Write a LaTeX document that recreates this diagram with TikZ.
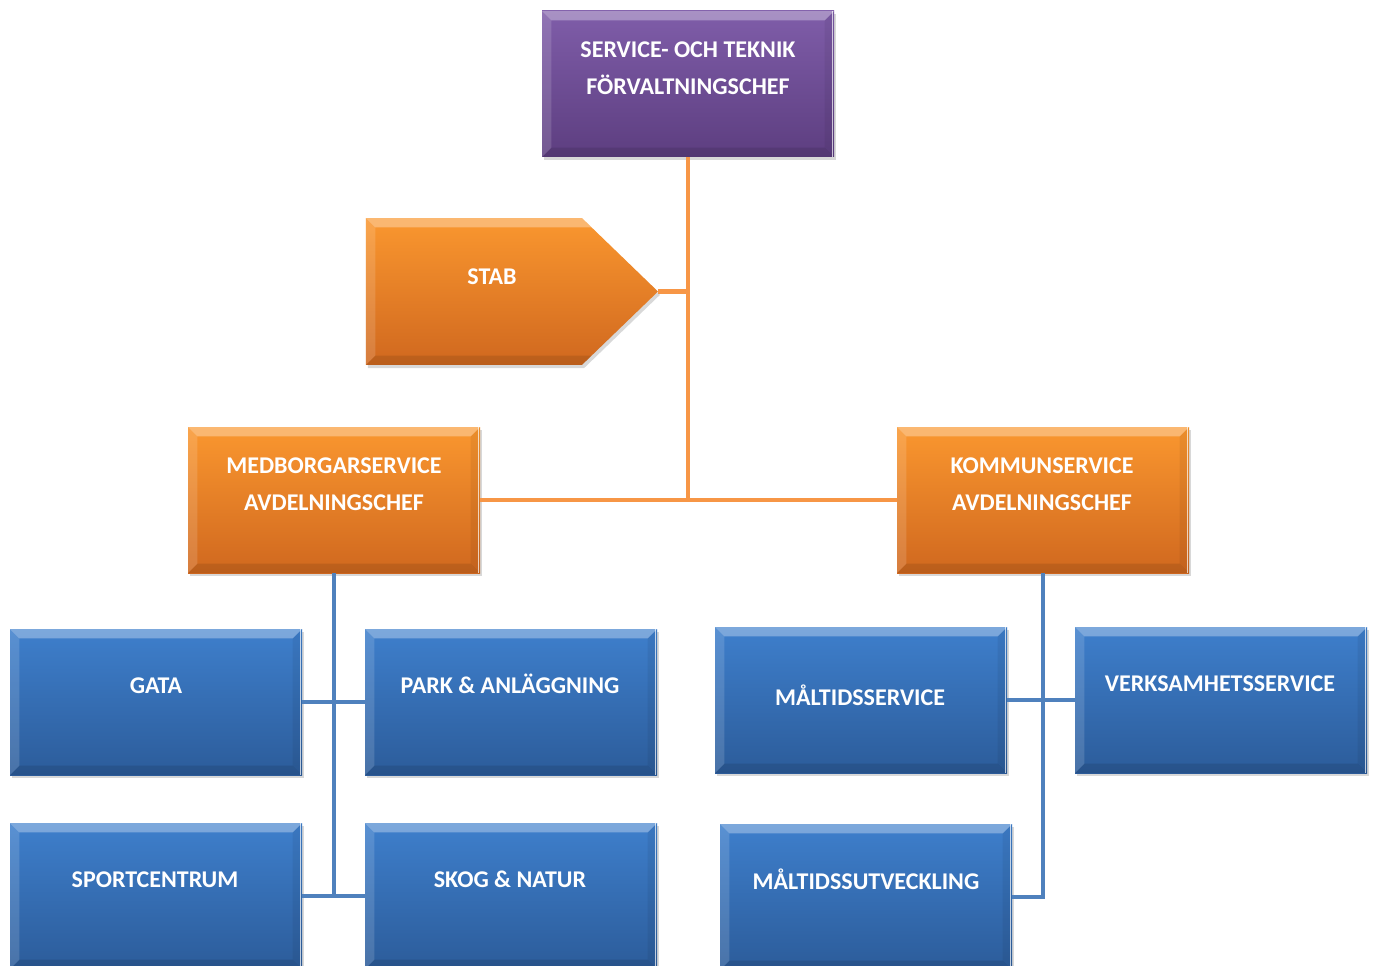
\documentclass[tikz,border=0pt]{standalone}
\usepackage{fontspec}
\setmainfont{Carlito}
\usetikzlibrary{shapes.symbols,shadows}
\definecolor{purT}{HTML}{7F5DA9}
\definecolor{purB}{HTML}{5D3E80}
\definecolor{orT}{HTML}{FA972F}
\definecolor{orB}{HTML}{D0681F}
\definecolor{blT}{HTML}{3E7FCC}
\definecolor{blB}{HTML}{2C5C9A}
\definecolor{orLine}{HTML}{F79646}
\definecolor{blLine}{HTML}{4F81BD}
\newcommand\ppbb{path picture bounding box}
\tikzset{
  bevbase/.style={path picture={
    \fill[white,opacity=.32] (\ppbb.north west) -- (\ppbb.north east) -- ([xshift=-7pt,yshift=-7pt]\ppbb.north east) -- ([xshift=7pt,yshift=-7pt]\ppbb.north west) -- cycle;
    \fill[white,opacity=.14] (\ppbb.north west) -- ([xshift=7pt,yshift=-7pt]\ppbb.north west) -- ([xshift=7pt,yshift=7pt]\ppbb.south west) -- (\ppbb.south west) -- cycle;
    \fill[black,opacity=.1] (\ppbb.south west) -- ([xshift=7pt,yshift=7pt]\ppbb.south west) -- ([xshift=-7pt,yshift=7pt]\ppbb.south east) -- (\ppbb.south east) -- cycle;
  }},
  bev/.style={path picture={
    \fill[white,opacity=.32] (\ppbb.north west) -- (\ppbb.north east) -- ([xshift=-7pt,yshift=-7pt]\ppbb.north east) -- ([xshift=7pt,yshift=-7pt]\ppbb.north west) -- cycle;
    \fill[white,opacity=.14] (\ppbb.north west) -- ([xshift=7pt,yshift=-7pt]\ppbb.north west) -- ([xshift=7pt,yshift=7pt]\ppbb.south west) -- (\ppbb.south west) -- cycle;
    \fill[black,opacity=.1] (\ppbb.south west) -- ([xshift=7pt,yshift=7pt]\ppbb.south west) -- ([xshift=-7pt,yshift=7pt]\ppbb.south east) -- (\ppbb.south east) -- cycle;
    \fill[black,opacity=.06] (\ppbb.north east) -- ([xshift=-7pt,yshift=-7pt]\ppbb.north east) -- ([xshift=-7pt,yshift=7pt]\ppbb.south east) -- (\ppbb.south east) -- cycle;
    \draw[white,opacity=.7,line width=1.2pt] ([xshift=-1pt]\ppbb.north east) -- ([xshift=-1pt]\ppbb.south east);
  }},
  shad/.style={drop shadow={opacity=.3, shadow xshift=1.5pt, shadow yshift=-2.5pt}},
  card/.style={rectangle, minimum width=219pt, minimum height=109.5pt, inner sep=0pt, shading=axis, bev, shad},
  purcard/.style={card, top color=purT, bottom color=purB},
  orcard/.style={card, top color=orT, bottom color=orB},
  blcard/.style={card, top color=blT, bottom color=blB},
  stabshape/.style={signal, signal to=east, signal pointer angle=88, minimum width=219pt, minimum height=110pt,
      inner sep=0pt, shading=axis, top color=orT, bottom color=orB, bevbase, shad},
  lbl/.style={text=white, font=\fontsize{18}{22}\selectfont\bfseries, inner sep=0pt,
    text height=11.6pt, text depth=0pt, anchor=center},
  oline/.style={draw=orLine, line width=3.6pt},
  bline/.style={draw=blLine, line width=3pt},
}
\begin{document}
\begin{tikzpicture}[x=0.75pt,y=-0.75pt]
\useasboundingbox (0,0) rectangle (1374,966);
\clip (0,0) rectangle (1374,966);
\fill[white] (0,0) rectangle (1374,966);

% boxes
\node[purcard] (top) at (688,84) {};
\node[stabshape] (stab) at (474,291.5) {};
\node[orcard] (med) at (334,500) {};
\node[orcard] (kom) at (1043,500) {};
\node[blcard] (gata) at (156,702) {};
\node[blcard] (park) at (511,702) {};
\node[blcard] (sport) at (156,896) {};
\node[blcard] (skog) at (511,896) {};
\node[blcard] (ms) at (861,700) {};
\node[blcard] (vs) at (1221,700) {};
\node[blcard] (mu) at (866,897) {};

% connectors
\draw[oline] (top.south) -- (top.south |- med.east);
\draw[oline] (med.east) -- (kom.west);
\draw[oline] (stab.east) -- (stab.east -| top.south);
\draw[bline] (med.south) -- (med.south |- sport.east);
\draw[bline] (gata.east) -- (park.west);
\draw[bline] (sport.east) -- (skog.west);
\draw[bline] (kom.south) |- (mu.east);
\draw[bline] (ms.east) -- (vs.west);

% labels
\node[lbl] (t1) at (688,50) {SERVICE- OCH TEKNIK};
\node[lbl] (t2) at (688,87) {FÖRVALTNINGSCHEF};
\node[lbl] (ts) at (492,277) {STAB};
\node[lbl] (m1) at (334,466) {MEDBORGARSERVICE};
\node[lbl] (m2) at (334,503) {AVDELNINGSCHEF};
\node[lbl] (k1) at (1042,466) {KOMMUNSERVICE};
\node[lbl] (k2) at (1042,503) {AVDELNINGSCHEF};
\node[lbl] (tg) at (156,686) {GATA};
\node[lbl] (tp) at (510,686) {PARK \& ANLÄGGNING};
\node[lbl] (tsp) at (155,880) {SPORTCENTRUM};
\node[lbl] (tsk) at (510,880) {SKOG \& NATUR};
\node[lbl] (tms) at (860,698) {MÅLTIDSSERVICE};
\node[lbl] (tvs) at (1220,684) {VERKSAMHETSSERVICE};
\node[lbl] (tmu) at (866,882) {MÅLTIDSSUTVECKLING};
\end{tikzpicture}
\end{document}
